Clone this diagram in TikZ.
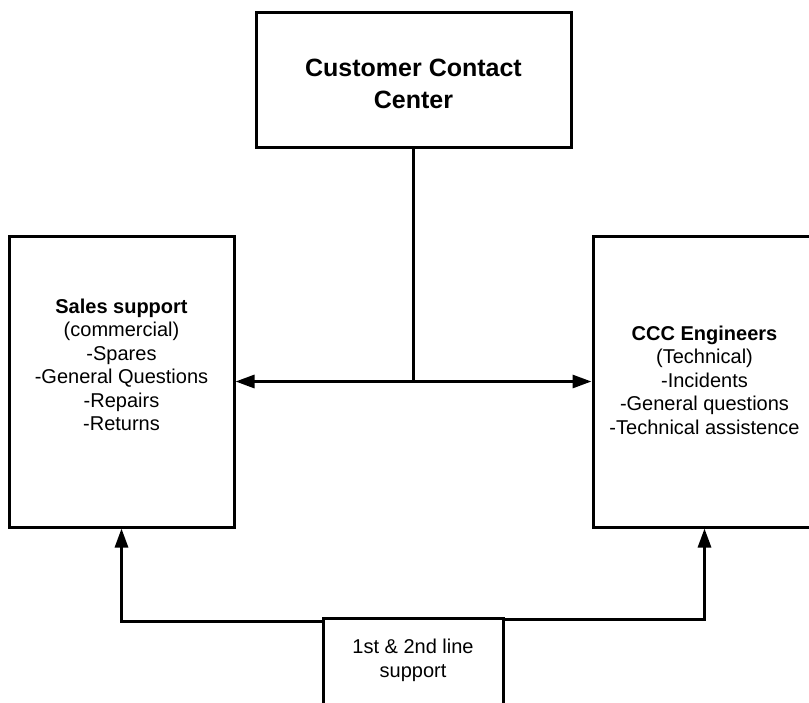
\documentclass[tikz,border=0pt]{standalone}
\usepackage{fontspec}
\setmainfont{Liberation Sans}
\usetikzlibrary{arrows.meta}
\begin{document}
\begin{tikzpicture}[x=1pt,y=-1pt,
  box/.style={draw=black, line width=3pt, rectangle, inner sep=0pt},
  lbl/.style={align=center, inner sep=0pt, font=\fontsize{20}{23.5}\selectfont},
  conn/.style={line width=3pt},
  tip/.style={-{Triangle[length=19pt,width=13pt]}},
  tips/.style={{Triangle[length=19pt,width=13pt]}-{Triangle[length=19pt,width=13pt]}}]
\clip (0,0) rectangle (809,702);

% boxes
\node[box, minimum width=315pt, minimum height=135pt] (ccc) at (413.5,79.5) {};
\node[box, minimum width=225pt, minimum height=291pt] (sales) at (121.5,381.5) {};
\node[box, minimum width=223pt, minimum height=291pt] (eng) at (704.5,381.5) {};
\node[box, minimum width=180pt, minimum height=130pt, anchor=north] (sup) at (413,617) {};

% texts
\node[lbl, font=\bfseries\fontsize{25}{31.5}\selectfont] (ccctext) at (413.5,84)
  {Customer Contact\\Center};
\node[lbl] (salestext) at (121.5,365)
  {\textbf{Sales support}\\(commercial)\\-Spares\\-General Questions\\-Repairs\\-Returns};
\node[lbl] (engtext) at (704.5,380)
  {\textbf{CCC Engineers}\\(Technical)\\-Incidents\\-General questions\\-Technical assistence};
\node[lbl, font=\fontsize{20}{24}\selectfont] (suptext) at (413,660)
  {1st \& 2nd line\\support};

% connectors
\draw[conn] (ccc.south) -- (ccc.south |- sales.east) coordinate (j);
\draw[conn, tips] (sales.east) -- (eng.west);
\draw[conn, tip] ([yshift=-4pt]sup.north west) -| (sales.south);
\draw[conn, tip] ([yshift=-2pt]sup.north east) -| (eng.south);
\end{tikzpicture}
\end{document}
